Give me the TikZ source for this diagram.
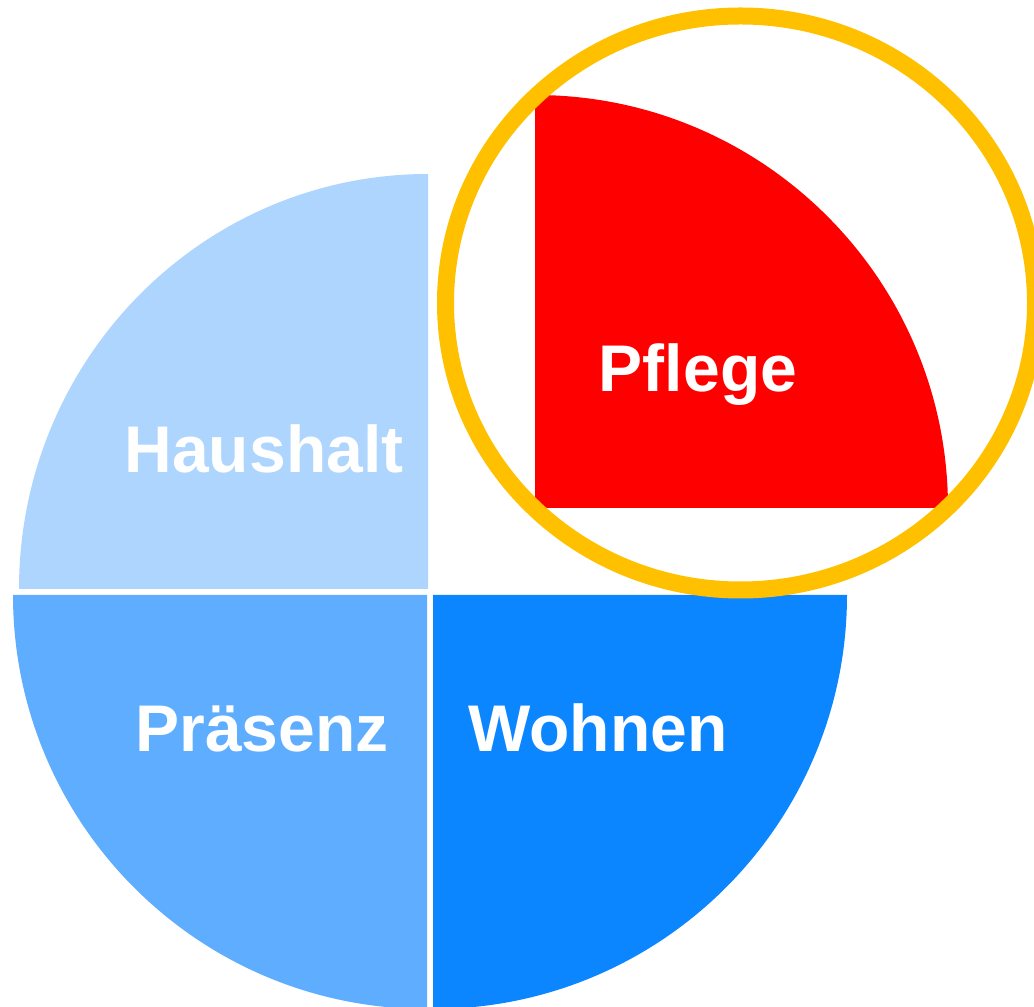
\documentclass[tikz,border=0pt]{standalone}
\usepackage{fontspec}
\setmainfont{Liberation Sans}
\definecolor{lightsky}{HTML}{ADD5FD}
\definecolor{midsky}{HTML}{5EADFE}
\definecolor{deepsky}{HTML}{0C86FF}
\definecolor{ringgold}{HTML}{FFC000}
\tikzset{
    quarter/.style={line join=round, draw=none},
    ring/.style={draw=ringgold, line width=17pt},
    label/.style={text=white, font=\bfseries\fontsize{66}{78}\selectfont, anchor=base, inner sep=0pt},
    common settings/.style={x=1pt, y=1pt}
}
\begin{document}
\begin{tikzpicture}[common settings]

    \def\r{414}    % radius of the blue quarters
    \def\p{413}    % radius of the red quarter

    \useasboundingbox (0,0) rectangle (1034,1007);
    \clip (0,0) rectangle (1034,1007);

    % Top left quarter
    \fill[quarter, lightsky] (428,418) -- (19,418)
        arc[start angle=180, end angle=90, x radius=409, y radius=415] -- cycle;

    % Bottom quarters
    \fill[quarter, midsky] (427,412) -- (13,412)
        arc[start angle=180, end angle=270, radius=\r] -- cycle;
    \fill[quarter, deepsky] (433,412) -- (847,412)
        arc[start angle=0, end angle=-90, radius=\r] -- cycle;

    % Highlighted quarter
    \fill[quarter, red] (535,499) -- (535,912)
        arc[start angle=90, end angle=0, radius=\p] -- cycle;

    % Ring round the highlight
    \draw[ring] (740.5,704) ellipse [x radius=295, y radius=287];

    % Labels
    \node[label] (haushalt) at (264,534) {Haushalt};
    \node[label] (pflege) at (698,615.5) {Pflege};
    \node[label] (praesenz) at (262,255) {Präsenz};
    \node[label] (wohnen) at (598,255) {Wohnen};

\end{tikzpicture}
\end{document}
